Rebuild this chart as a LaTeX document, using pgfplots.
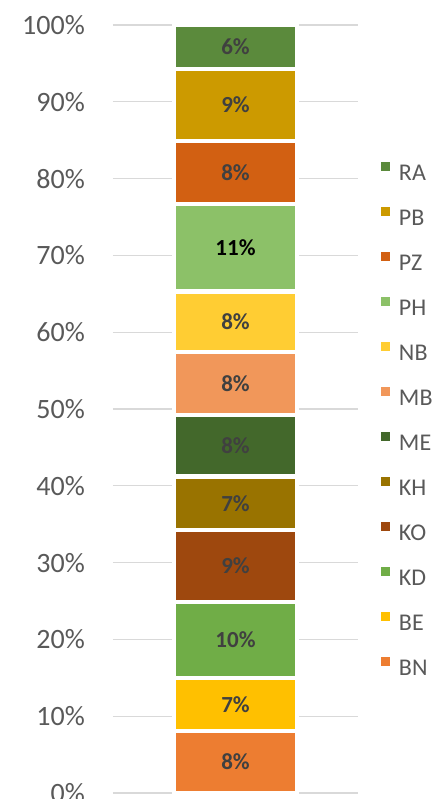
\documentclass[border=0pt]{standalone}
\usepackage{pgfplots}
\pgfplotsset{compat=1.18}
\usepackage{fontspec}
\setmainfont{Carlito}
\definecolor{cBN}{HTML}{ED7D31}
\definecolor{cBE}{HTML}{FFC000}
\definecolor{cKD}{HTML}{70AD47}
\definecolor{cKO}{HTML}{9E480E}
\definecolor{cKH}{HTML}{997300}
\definecolor{cME}{HTML}{43682B}
\definecolor{cMB}{HTML}{F1975A}
\definecolor{cNB}{HTML}{FFCD33}
\definecolor{cPH}{HTML}{8CC168}
\definecolor{cPZ}{HTML}{D26012}
\definecolor{cPB}{HTML}{CC9A00}
\definecolor{cRA}{HTML}{5B8A3C}
\definecolor{tickgray}{HTML}{595959}
\definecolor{labgray}{HTML}{404040}
\definecolor{gridgray}{HTML}{D9D9D9}
\pgfplotsset{
  seg/.style 2 args={fill=#1, draw=white, line width=4.3pt,
    legend image code/.code={\fill[#1,draw=none] (0pt,2.5pt) rectangle (9pt,11.5pt);},
    nodes near coords={\pgfplotspointmeta},
    every node near coord/.style={anchor=center, font=\fontsize{23}{23}\bfseries\selectfont, text=#2}},
}
\begin{document}
\begin{tikzpicture}
\begin{axis}[name=ax, at={(0,0)}, anchor=south west,
  scale only axis, width=245pt, height=768pt,
  ybar stacked, bar width=123pt,
  xmin=-0.5, xmax=0.5, ymin=0, ymax=100,
  clip=false,
  axis line style={draw=none},
  xtick=\empty,
  ytick={0,10,...,100},
  ymajorgrids,
  grid style={line width=1.3pt, color=gridgray},
  major tick length=0pt,
  /pgf/number format/assume math mode=true,
  yticklabel={\pgfmathprintnumber{\tick}\%},
  yticklabel style={font=\fontsize{28}{28}\selectfont, text=tickgray, anchor=east, inner sep=0pt, xshift=-28pt},
  point meta=explicit symbolic,
  reverse legend,
  legend cell align=left,
  legend style={at={(1,1)}, anchor=north west, xshift=23pt, yshift=-137pt,
    draw=none, fill=none, inner sep=0pt, outer sep=0pt,
    font=\fontsize{24}{24}\selectfont, text=tickgray,
    row sep=26pt, column sep=9pt,
    nodes={inner sep=0pt, outer sep=0pt, text height=15pt, text depth=0pt}},
]
\addplot[seg={cBN}{labgray}] coordinates {(0,8.1) [8\%]};
\addlegendentry{BN}
\addplot[seg={cBE}{labgray}] coordinates {(0,6.9) [7\%]};
\addlegendentry{BE}
\addplot[seg={cKD}{labgray}] coordinates {(0,9.9) [10\%]};
\addlegendentry{KD}
\addplot[seg={cKO}{labgray}] coordinates {(0,9.3) [9\%]};
\addlegendentry{KO}
\addplot[seg={cKH}{labgray}] coordinates {(0,7.0) [7\%]};
\addlegendentry{KH}
\addplot[seg={cME}{labgray}] coordinates {(0,8.0) [8\%]};
\addlegendentry{ME}
\addplot[seg={cMB}{labgray}] coordinates {(0,8.2) [8\%]};
\addlegendentry{MB}
\addplot[seg={cNB}{labgray}] coordinates {(0,7.9) [8\%]};
\addlegendentry{NB}
\addplot[seg={cPH}{black}] coordinates {(0,11.4) [11\%]};
\addlegendentry{PH}
\addplot[seg={cPZ}{labgray}] coordinates {(0,8.2) [8\%]};
\addlegendentry{PZ}
\addplot[seg={cPB}{labgray}] coordinates {(0,9.4) [9\%]};
\addlegendentry{PB}
\addplot[seg={cRA}{labgray}] coordinates {(0,5.7) [6\%]};
\addlegendentry{RA}
\end{axis}
\pgfresetboundingbox
\path[use as bounding box] ([xshift=-113pt, yshift=-6pt]ax.south west) rectangle ++(434pt,799pt);
\end{tikzpicture}
\end{document}
